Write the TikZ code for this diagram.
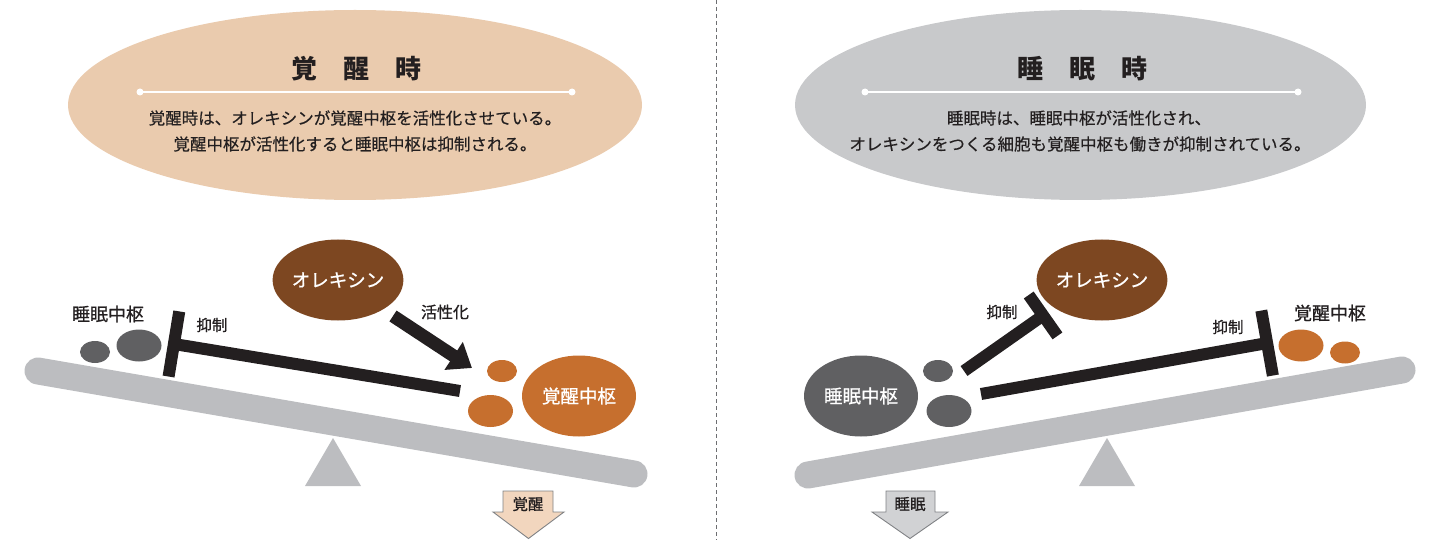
\documentclass[tikz,border=0pt]{standalone}
\usepackage{fontspec}
\setmainfont{Noto Sans CJK JP}
\newfontfamily\jpmid{Noto Sans CJK JP}[FakeBold=0.9]
\newfontfamily\jpbody{Noto Sans CJK JP}[FakeBold=0.4]
\usetikzlibrary{shapes.geometric,arrows.meta}
\definecolor{ink}{HTML}{231F20}
\definecolor{beam}{HTML}{BCBDC0}
\definecolor{sleepc}{HTML}{606062}
\definecolor{orexc}{HTML}{7D4721}
\definecolor{wakec}{HTML}{C66F2E}
\definecolor{wakebg}{HTML}{EACBAE}
\definecolor{sleepbg}{HTML}{C8C9CB}
\definecolor{wakearrow}{HTML}{F2D6BE}
\definecolor{sleeparrow}{HTML}{D1D2D4}
\definecolor{arrowline}{HTML}{808285}
\definecolor{dashc}{HTML}{6D6E71}
\tikzset{
  bgell/.style={ellipse, inner sep=0pt, draw=none},
  titletext/.style={text=ink, font=\fontsize{26}{26}\selectfont\bfseries, inner sep=0pt},
  bodytext/.style={text=ink, font=\jpbody\fontsize{16.5}{16.5}\selectfont, inner sep=0pt},
  blob/.style={ellipse, inner sep=0pt, draw=none},
  bigblob/.style={blob, minimum width=114pt, minimum height=81pt, text=white, font=\jpmid\fontsize{18.5}{18.5}\selectfont},
  midblob/.style={blob, minimum width=45pt, minimum height=32pt},
  smallblob/.style={blob, minimum width=30pt, minimum height=22pt},
  lbl/.style={text=ink, inner sep=0pt, font=\jpmid\fontsize{18}{18}\selectfont},
  smalllbl/.style={text=ink, inner sep=0pt, font=\jpmid\fontsize{15.5}{15.5}\selectfont},
  beamline/.style={draw=beam, line width=27pt, line cap=round},
  fulcrum/.style={fill=beam, draw=none},
  inhib/.style={draw=ink, line width=12pt},
  act/.style={draw=ink, line width=13pt, -{Triangle[length=22pt,width=32pt]}},
  deco/.style={draw=white, line width=1.2pt},
  decodot/.style={fill=white, draw=none},
  downarrow/.style={draw=arrowline, line width=0.9pt, line join=miter},
  arrowtext/.style={text=ink, inner sep=0pt, font=\jpmid\fontsize{15.5}{15.5}\selectfont},
}
\begin{document}
\begin{tikzpicture}[x=1pt,y=-1pt]
\useasboundingbox (0,0) rectangle (1430,540);

% ---------- header ellipses ----------
\node[bgell, fill=wakebg, minimum width=574pt, minimum height=190pt] (ellW) at (355,105) {};
\node[bgell, fill=sleepbg, minimum width=571pt, minimum height=190pt] (ellS) at (1080.5,105) {};

\node[titletext] (titleW) at (356,69) {覚　醒　時};
\node[titletext] (titleS) at (1082,69) {睡　眠　時};

\coordinate (dWa) at (140,92);
\coordinate (dWb) at (572,92);
\coordinate (dSa) at (865,92);
\coordinate (dSb) at (1298,92);
\draw[deco] (dWa) -- (dWb);
\draw[deco] (dSa) -- (dSb);
\fill[decodot] (dWa) circle (3.5pt) (dWb) circle (3.5pt) (dSa) circle (3.5pt) (dSb) circle (3.5pt);

\node[bodytext] (txtW1) at (355,118) {覚醒時は、オレキシンが覚醒中枢を活性化させている。};
\node[bodytext] (txtW2) at (355,144) {覚醒中枢が活性化すると睡眠中枢は抑制される。};
\node[bodytext] (txtS1) at (1079,118) {睡眠時は、睡眠中枢が活性化され、};
\node[bodytext] (txtS2) at (1080,144) {オレキシンをつくる細胞も覚醒中枢も働きが抑制されている。};

% ---------- divider ----------
\coordinate (divT) at (716,0);
\coordinate (divB) at (716,540);
\draw[dashc, line width=0.8pt, dash pattern=on 4pt off 3pt] (divT) -- (divB);

% ---------- left seesaw ----------
\fill[fulcrum] (333,438) -- (361,486) -- (305,486) -- cycle;
\coordinate (beamWa) at (38,371);
\coordinate (beamWb) at (634,474);
\draw[beamline] (beamWa) -- (beamWb);

\node[smallblob, fill=sleepc] (sW1) at (95,352) {};
\node[midblob, fill=sleepc] (sW2) at (139,345.5) {};
\node[lbl] (sleepLblW) at (108,314) {睡眠中枢};

\node[bigblob, fill=orexc] (orexW) at (338,280) {オレキシン};
\node[smallblob, fill=wakec] (wW1) at (502,371) {};
\node[midblob, fill=wakec] (wW2) at (490.5,411) {};
\node[bigblob, fill=wakec] (wakeW) at (579,396) {覚醒中枢};

\coordinate (inhWs) at (460,391);
\coordinate (inhWe) at (168,343);
\draw[inhib, -{Bar[width=66pt]}] (inhWs) -- (inhWe);
\node[smalllbl] (inhLblW) at (212,325) {抑制};

\coordinate (actWs) at (393,316);
\coordinate (actWe) at (472,368);
\draw[act] (actWs) -- (actWe);
\node[smalllbl, font=\jpmid\fontsize{16}{16}\selectfont] (actLblW) at (445,312) {活性化};

\draw[downarrow, fill=wakearrow] (503,491) -- (553,491) -- (553,512) -- (564,512) -- (528.5,538.5) -- (493,512) -- (503,512) -- cycle;
\node[arrowtext] (arrW) at (528,504) {覚醒};

% ---------- right seesaw ----------
\fill[fulcrum] (1107,438) -- (1135,486) -- (1079,486) -- cycle;
\coordinate (beamSa) at (808,475);
\coordinate (beamSb) at (1402,370);
\draw[beamline] (beamSa) -- (beamSb);

\node[bigblob, fill=sleepc] (sleepS) at (861,396) {睡眠中枢};
\node[smallblob, fill=sleepc] (sS1) at (938,371) {};
\node[midblob, fill=sleepc] (sS2) at (949,411) {};

\node[bigblob, fill=orexc] (orexS) at (1102,280) {オレキシン};

\node[midblob, fill=wakec] (wS1) at (1301,345.5) {};
\node[smallblob, fill=wakec] (wS2) at (1345,352.5) {};
\node[lbl] (wakeLblS) at (1330,313) {覚醒中枢};

\coordinate (inhS1s) at (964,371);
\coordinate (inhS1e) at (1048,312);
\draw[inhib, -{Bar[width=50pt]}] (inhS1s) -- (inhS1e);
\node[smalllbl] (inhLblS1) at (1002,312) {抑制};

\coordinate (inhS2s) at (981,394);
\coordinate (inhS2e) at (1273,342);
\draw[inhib, -{Bar[width=66pt]}] (inhS2s) -- (inhS2e);
\node[smalllbl] (inhLblS2) at (1228,327) {抑制};

\draw[downarrow, fill=sleeparrow] (886,491) -- (935,491) -- (935,512) -- (948,512) -- (910,538.5) -- (872,512) -- (886,512) -- cycle;
\node[arrowtext] (arrS) at (910,504) {睡眠};
\end{tikzpicture}
\end{document}
